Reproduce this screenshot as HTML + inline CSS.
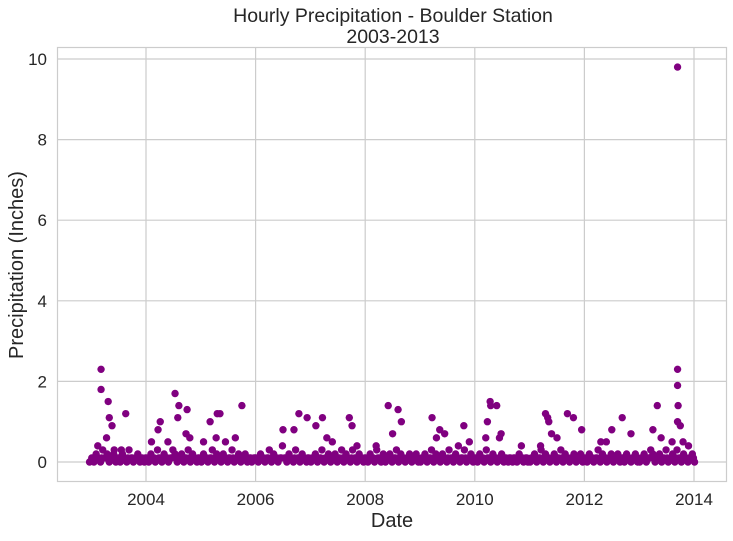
<!DOCTYPE html>
<html><head><meta charset="utf-8"><style>
body{margin:0;background:#fff;font-family:"Liberation Sans",Arial,sans-serif;}
svg text{font-family:"Liberation Sans",Arial,sans-serif;fill:#262626;}
</style></head><body>
<svg id="chart" width="733" height="536" xmlns="http://www.w3.org/2000/svg">
<rect width="733" height="536" fill="#fff"/>
<text x="393" y="22" font-size="19.5" text-anchor="middle">Hourly Precipitation - Boulder Station</text>
<text x="393" y="43" font-size="19.5" text-anchor="middle">2003-2013</text>
<g id="grid"></g><g id="ticks"></g><g id="marks"></g>
<rect x="57.5" y="47.5" width="669" height="434" fill="none" stroke="#ccc" stroke-width="1.2"/>
<text x="392" y="527" font-size="20" text-anchor="middle">Date</text>
<text transform="translate(23,265) rotate(-90)" font-size="20" text-anchor="middle">Precipitation (Inches)</text>
</svg>
<script>
const xTicks=[2004,2006,2008,2010,2012,2014];
const yTicks=[0,2,4,6,8,10];
const obsDate=[
2002.97,2003.01,2003.05,2003.09,2003.13,2003.17,2003.21,2003.25,2003.29,2003.33,2003.37,2003.41,2003.45,2003.49,2003.53,2003.57,2003.61,2003.65,2003.69,2003.73,2003.77,2003.81,2003.85,2003.89,2003.93,2003.97,
2004.01,2004.05,2004.09,2004.13,2004.17,2004.21,2004.25,2004.29,2004.33,2004.37,2004.41,2004.45,2004.49,2004.53,2004.57,2004.61,2004.65,2004.69,2004.73,2004.77,2004.81,2004.85,2004.89,2004.93,2004.97,
2005.01,2005.05,2005.09,2005.13,2005.17,2005.21,2005.25,2005.29,2005.33,2005.37,2005.41,2005.45,2005.49,2005.53,2005.57,2005.61,2005.65,2005.69,2005.73,2005.77,2005.81,2005.85,2005.89,2005.93,2005.97,
2006.01,2006.05,2006.09,2006.13,2006.17,2006.21,2006.25,2006.29,2006.33,2006.37,2006.41,2006.45,2006.49,2006.53,2006.57,2006.61,2006.65,2006.69,2006.73,2006.77,2006.81,2006.85,2006.89,2006.93,2006.97,
2007.01,2007.05,2007.09,2007.13,2007.17,2007.21,2007.25,2007.29,2007.33,2007.37,2007.41,2007.45,2007.49,2007.53,2007.57,2007.61,2007.65,2007.69,2007.73,2007.77,2007.81,2007.85,2007.89,2007.93,2007.97,
2008.01,2008.05,2008.09,2008.13,2008.17,2008.21,2008.25,2008.29,2008.33,2008.37,2008.41,2008.45,2008.49,2008.53,2008.57,2008.61,2008.65,2008.69,2008.73,2008.77,2008.81,2008.85,2008.89,2008.93,2008.97,
2009.01,2009.05,2009.09,2009.13,2009.17,2009.21,2009.25,2009.29,2009.33,2009.37,2009.41,2009.45,2009.49,2009.53,2009.57,2009.61,2009.65,2009.69,2009.73,2009.77,2009.81,2009.85,2009.89,2009.93,2009.97,
2010.01,2010.05,2010.09,2010.13,2010.17,2010.21,2010.25,2010.29,2010.33,2010.37,2010.41,2010.45,2010.49,2010.53,2010.57,2010.61,2010.65,2010.69,2010.73,2010.77,2010.81,2010.85,2010.89,2010.93,2010.97,
2011.01,2011.05,2011.09,2011.13,2011.17,2011.21,2011.25,2011.29,2011.33,2011.37,2011.41,2011.45,2011.49,2011.53,2011.57,2011.61,2011.65,2011.69,2011.73,2011.77,2011.81,2011.85,2011.89,2011.93,2011.97,
2012.01,2012.05,2012.09,2012.13,2012.17,2012.21,2012.25,2012.29,2012.33,2012.37,2012.41,2012.45,2012.49,2012.53,2012.57,2012.61,2012.65,2012.69,2012.73,2012.77,2012.81,2012.85,2012.89,2012.93,2012.97,
2013.01,2013.05,2013.09,2013.13,2013.17,2013.21,2013.25,2013.29,2013.33,2013.37,2013.41,2013.45,2013.49,2013.53,2013.57,2013.61,2013.65,2013.69,2013.73,2013.77,2013.81,2013.85,2013.89,2013.93,2013.97,2014.01,
2003.03,2003.11,2003.19,2003.27,2003.35,2003.43,2003.51,2003.59,2003.67,2003.75,2003.83,2003.91,2003.99,2004.07,2004.15,2004.23,2004.31,2004.39,2004.47,2004.55,2004.63,2004.71,2004.79,2004.87,2004.95,
2005.03,2005.11,2005.19,2005.27,2005.35,2005.43,2005.51,2005.59,2005.67,2005.75,2005.83,2005.91,2005.99,2006.07,2006.15,2006.23,2006.31,2006.39,2006.47,2006.55,2006.63,2006.71,2006.79,2006.87,2006.95,
2007.03,2007.11,2007.19,2007.27,2007.35,2007.43,2007.51,2007.59,2007.67,2007.75,2007.83,2007.91,2007.99,2008.07,2008.15,2008.23,2008.31,2008.39,2008.47,2008.55,2008.63,2008.71,2008.79,2008.87,2008.95,
2009.03,2009.11,2009.19,2009.27,2009.35,2009.43,2009.51,2009.59,2009.67,2009.75,2009.83,2009.91,2009.99,2010.07,2010.15,2010.23,2010.31,2010.39,2010.47,2010.55,2010.63,2010.71,2010.79,2010.87,2010.95,
2011.03,2011.11,2011.19,2011.27,2011.35,2011.43,2011.51,2011.59,2011.67,2011.75,2011.83,2011.91,2011.99,2012.07,2012.15,2012.23,2012.31,2012.39,2012.47,2012.55,2012.63,2012.71,2012.79,2012.87,2012.95,
2013.03,2013.11,2013.19,2013.27,2013.35,2013.43,2013.51,2013.59,2013.67,2013.75,2013.83,2013.91,2013.99,
2003.18,2003.18,2003.31,2003.33,2003.28,2003.38,2003.63,2003.12,2003.42,2003.55,
2004.53,2004.60,2004.58,2004.75,2004.22,2004.26,2004.73,2004.80,2004.40,2004.10,
2005.17,2005.30,2005.35,2005.75,2005.28,2005.45,2005.63,2005.05,
2006.79,2006.94,2007.22,2006.50,2006.70,2007.10,2007.30,2007.40,
2007.71,2007.76,2008.42,2008.60,2008.66,2008.50,2008.20,2007.85,
2009.22,2009.36,2009.80,2009.45,2009.30,2009.90,2009.70,
2010.23,2010.28,2010.29,2010.40,2010.45,2010.48,2010.20,2010.85,
2011.29,2011.33,2011.35,2011.69,2011.80,2011.95,2011.50,2011.40,2011.20,
2012.69,2012.40,2012.50,2012.30,2012.85,
2013.33,2013.70,2013.70,2013.70,2013.71,2013.70,2013.75,2013.25,2013.40,2013.60,2013.90,2013.80
];
const obsValue=[
0,0.1,0,0.2,0.1,0,0.3,0.1,0.2,0,0.1,0.2,0,0.1,0,0.2,0.1,0,0.3,0.1,0,0.1,0.2,0,0.1,0,
0.1,0,0.2,0.1,0,0.3,0.1,0,0.2,0.1,0,0.1,0.3,0.2,0,0.1,0.2,0,0.1,0.3,0,0.2,0.1,0,0.1,
0,0.2,0.1,0,0.1,0.3,0,0.2,0.1,0,0.2,0.1,0,0.1,0.3,0,0.1,0.2,0,0.1,0.2,0,0.1,0,0.1,
0.1,0,0.2,0.1,0,0.1,0.3,0,0.2,0.1,0,0.1,0.4,0.1,0,0.2,0.1,0,0.3,0.1,0,0.2,0.1,0,0.1,
0,0.1,0.2,0,0.1,0.3,0,0.1,0.2,0,0.1,0.2,0,0.1,0.3,0,0.2,0.1,0,0.3,0.1,0,0.2,0.1,0,
0.1,0,0.2,0.1,0,0.3,0.1,0,0.2,0,0.1,0.2,0,0.1,0.3,0,0.2,0.1,0,0.1,0.2,0,0.1,0.2,0,
0,0.1,0.2,0,0.1,0.3,0,0.2,0.1,0,0.2,0.1,0,0.3,0.1,0,0.2,0.1,0,0.1,0.3,0,0.1,0.2,0,
0.1,0,0.2,0.1,0,0.3,0.1,0,0.2,0.1,0,0.1,0.2,0,0.1,0,0.1,0,0.1,0,0.2,0.1,0,0.1,0,
0,0.1,0.2,0,0.1,0.3,0,0.2,0.1,0,0.1,0.2,0,0.1,0.3,0,0.2,0.1,0,0.1,0.2,0,0.1,0.2,0,
0.1,0,0.2,0.1,0,0.1,0.3,0,0.2,0.1,0,0.1,0.2,0,0.1,0.2,0,0.1,0,0.2,0.1,0,0.1,0.2,0,
0,0.1,0.2,0,0.1,0.3,0.2,0,0.1,0.2,0,0.1,0.3,0,0.1,0.2,0,0.3,0.1,0,0.2,0.1,0,0.1,0.2,0,
0.1,0.1,0.1,0.1,0.1,0.1,0.1,0.1,0.1,0.1,0.1,0.1,0.1,0.1,0.1,0.1,0.1,0.1,0.1,0.1,0.1,0.1,0.1,0.1,0.1,
0.1,0.1,0.1,0.1,0.1,0.1,0.1,0.1,0.1,0.1,0.1,0.1,0.1,0.1,0.1,0.1,0.1,0.1,0.1,0.1,0.1,0.1,0.1,0.1,0.1,
0.1,0.1,0.1,0.1,0.1,0.1,0.1,0.1,0.1,0.1,0.1,0.1,0.1,0.1,0.1,0.1,0.1,0.1,0.1,0.1,0.1,0.1,0.1,0.1,0.1,
0.1,0.1,0.1,0.1,0.1,0.1,0.1,0.1,0.1,0.1,0.1,0.1,0.1,0.1,0.1,0.1,0.1,0.1,0.1,0.1,0.1,0.1,0.1,0.1,0.1,
0.1,0.1,0.1,0.1,0.1,0.1,0.1,0.1,0.1,0.1,0.1,0.1,0.1,0.1,0.1,0.1,0.1,0.1,0.1,0.1,0.1,0.1,0.1,0.1,0.1,
0.1,0.1,0.1,0.1,0.1,0.1,0.1,0.1,0.1,0.1,0.1,0.1,0.1,
2.3,1.8,1.5,1.1,0.6,0.9,1.2,0.4,0.3,0.3,
1.7,1.4,1.1,1.3,0.8,1.0,0.7,0.6,0.5,0.5,
1.0,1.2,1.2,1.4,0.6,0.5,0.6,0.5,
1.2,1.1,1.1,0.8,0.8,0.9,0.6,0.5,
1.1,0.9,1.4,1.3,1.0,0.7,0.4,0.4,
1.1,0.8,0.9,0.7,0.6,0.5,0.4,
1.0,1.5,1.4,1.4,0.6,0.7,0.6,0.4,
1.2,1.1,1.0,1.2,1.1,0.8,0.6,0.7,0.4,
1.1,0.5,0.8,0.5,0.7,
1.4,9.8,2.3,1.9,1.4,1.0,0.9,0.8,0.6,0.5,0.4,0.5
];
const X0=57.5,X1=726.5,Y0=481.5,Y1=47.5;
function xs(d){return 146+(d-2004)*(694-146)/10;}
function ys(v){return 462-v*(462-59)/10;}
const NS="http://www.w3.org/2000/svg";
const grid=document.getElementById('grid'),ticks=document.getElementById('ticks'),marks=document.getElementById('marks');
function mk(t,a){const e=document.createElementNS(NS,t);for(const k in a)e.setAttribute(k,a[k]);return e;}
xTicks.forEach(t=>{
  const l=mk('line',{x1:xs(t),x2:xs(t),y1:Y1,y2:Y0,stroke:'#ccc','stroke-width':1.2});
  
  
  grid.appendChild(l);
  const tx=mk('text',{x:xs(t),y:505,'font-size':17,'text-anchor':'middle'});
  tx.textContent=t;
  
  
  ticks.appendChild(tx);
});
yTicks.forEach(t=>{
  const l=mk('line',{x1:X0,x2:X1,y1:ys(t),y2:ys(t),stroke:'#ccc','stroke-width':1.2});
  
  
  grid.appendChild(l);
  const tx=mk('text',{x:47,y:ys(t)+6,'font-size':17,'text-anchor':'end'});
  tx.textContent=t;
  
  
  ticks.appendChild(tx);
});
obsDate.forEach((d,i)=>{
  const c=mk('circle',{cx:xs(d),cy:ys(obsValue[i]),r:3.7,fill:'#800080'});
  
  
  marks.appendChild(c);
});
</script>
</body></html>
